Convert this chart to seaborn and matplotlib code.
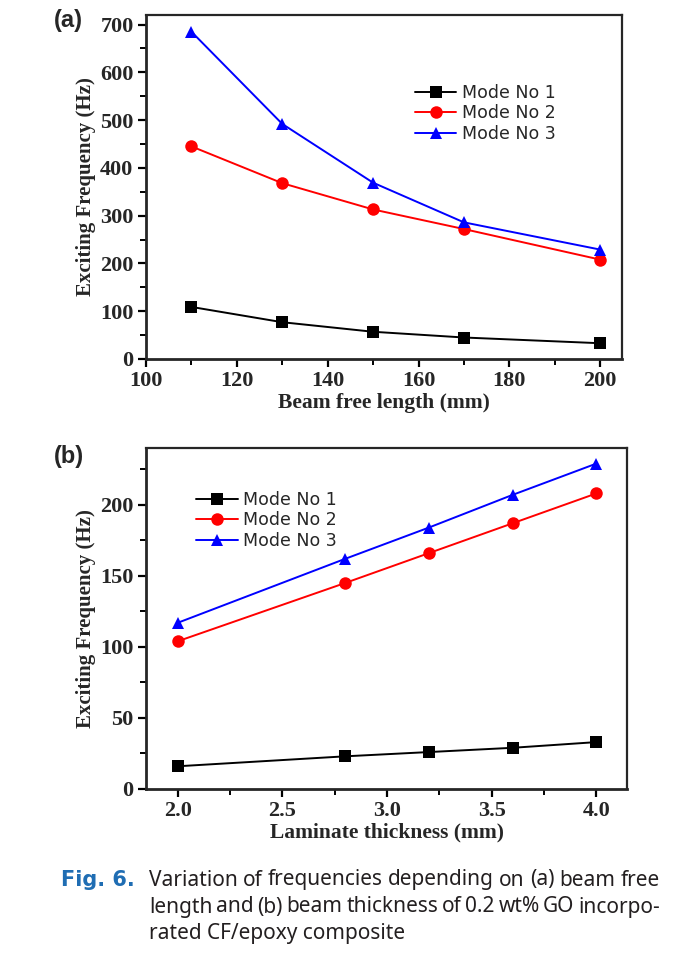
#!/usr/bin/env python3
"""
Exciting frequency vs beam free length / laminate thickness (Fig. 6 recreation).
"""

import pandas as pd
import matplotlib.pyplot as plt
import seaborn as sns
from matplotlib.ticker import MultipleLocator

# Panel (a): beam free length (mm)
length_mm = [110, 130, 150, 170, 200]
length_mode1 = [109, 77, 57, 45, 33]
length_mode2 = [445, 368, 313, 272, 208]
length_mode3 = [685, 492, 369, 286, 229]

# Panel (b): laminate thickness (mm)
thick_mm = [2.0, 2.8, 3.2, 3.6, 4.0]
thick_mode1 = [16, 23, 26, 29, 33]
thick_mode2 = [104, 145, 166, 187, 208]
thick_mode3 = [117, 162, 184, 207, 229]

mode_names = ['Mode No 1', 'Mode No 2', 'Mode No 3']

CAPTION_LINES = [
    'Variation of frequencies depending on (a) beam free',
    'length and (b) beam thickness of 0.2 wt% GO incorpo-',
    'rated CF/epoxy composite',
]


def to_long(x, series):
    rows = []
    for name, vals in zip(mode_names, series):
        for xi, yi in zip(x, vals):
            rows.append({'x': xi, 'y': yi, 'mode': name})
    return pd.DataFrame(rows)


def draw_panel(ax, df, xlim, ylim, xmaj, xmin, ymaj, ymin, xlabel, legend_loc):
    sns.lineplot(data=df, x='x', y='y', hue='mode', style='mode',
                 palette=['#000000', '#ff0000', '#0000ff'],
                 markers=['s', 'o', '^'], dashes=False, markersize=9,
                 markeredgewidth=0, linewidth=1.4, ax=ax)
    ax.set_xlim(*xlim)
    ax.set_ylim(*ylim)
    ax.xaxis.set_major_locator(MultipleLocator(xmaj))
    ax.xaxis.set_minor_locator(MultipleLocator(xmin))
    ax.yaxis.set_major_locator(MultipleLocator(ymaj))
    ax.yaxis.set_minor_locator(MultipleLocator(ymin))
    ax.tick_params(which='major', direction='out', length=6, width=1.6,
                   labelsize=16, pad=3, bottom=True, left=True,
                   top=False, right=False, color='black')
    ax.tick_params(which='minor', direction='out', length=4, width=1.4,
                   bottom=True, left=True, top=False, right=False,
                   color='black')
    for lab in ax.get_xticklabels() + ax.get_yticklabels():
        lab.set_fontfamily('Liberation Serif')
        lab.set_fontweight('bold')
    for side in ['left', 'bottom']:
        ax.spines[side].set_linewidth(2.0)
    for side in ['top', 'right']:
        ax.spines[side].set_linewidth(1.6)
    ax.set_xlabel(xlabel, fontfamily='Liberation Serif', fontweight='bold',
                  fontsize=15.5, labelpad=1)
    ax.set_ylabel('Exciting Frequency (Hz)', fontfamily='Liberation Serif',
                  fontweight='bold', fontsize=15, labelpad=3)
    ax.legend(loc='upper left', bbox_to_anchor=legend_loc, frameon=False,
              fontsize=12.5, handlelength=2.4, handletextpad=0.3,
              labelspacing=0.15, borderaxespad=0)


def justify_line(fig, renderer, words, x0, x1, y, **kw):
    # place words so the line fills x0..x1 (figure fraction)
    texts = [fig.text(0, y, w, **kw) for w in words]
    widths = [t.get_window_extent(renderer).width / fig.bbox.width for t in texts]
    gap = (x1 - x0 - sum(widths)) / (len(words) - 1)
    x = x0
    for t, w in zip(texts, widths):
        t.set_x(x)
        x += w + gap


def main():
    sns.set_style('white')
    plt.rcParams['font.family'] = ['DejaVu Sans']

    fig = plt.figure(figsize=(6.82, 9.59), dpi=100)
    W, H = 682, 959
    ax_a = fig.add_axes([146 / W, 1 - 359 / H, 476 / W, 344 / H])
    ax_b = fig.add_axes([146 / W, 1 - 789 / H, 481 / W, 341 / H])

    draw_panel(ax_a, to_long(length_mm, [length_mode1, length_mode2, length_mode3]),
               (100, 204.8), (0, 720), 20, 10, 100, 50,
               'Beam free length (mm)', (0.55, 0.82))
    draw_panel(ax_b, to_long(thick_mm, [thick_mode1, thick_mode2, thick_mode3]),
               (1.848, 4.147), (0, 240), 0.5, 0.25, 50, 25,
               'Laminate thickness (mm)', (0.09, 0.895))

    fig.text(54 / W, 1 - 21 / H, '(a)', fontsize=17, fontweight='bold',
             va='center', family='Liberation Sans')
    fig.text(54 / W, 1 - 456 / H, '(b)', fontsize=17, fontweight='bold',
             va='center', family='Liberation Sans')

    # caption (condensed face if one is installed)
    cap_font = ['Noto Sans', 'Liberation Sans', 'DejaVu Sans']
    fig.text(61 / W, 1 - 880 / H, 'Fig. 6.', color='#1f6db3', fontsize=15,
             fontweight='bold', va='center', family='DejaVu Sans')
    renderer = fig.canvas.get_renderer()
    kw = dict(fontsize=15, va='center', color='#231f20', family=cap_font,
              fontstretch='condensed')
    justify_line(fig, renderer, CAPTION_LINES[0].split(), 149 / W, 660 / W, 1 - 880 / H, **kw)
    justify_line(fig, renderer, CAPTION_LINES[1].split(), 149 / W, 660 / W, 1 - 907 / H, **kw)
    fig.text(149 / W, 1 - 934 / H, CAPTION_LINES[2], **kw)

    fig.savefig('out.png', dpi=100)


if __name__ == '__main__':
    main()
